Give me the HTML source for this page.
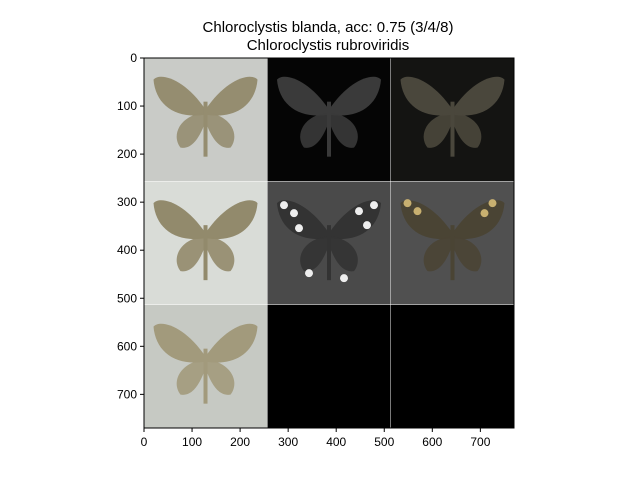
<!DOCTYPE html>
<html><head><meta charset="utf-8"><style>
body{margin:0;background:#fff;}
svg{display:block;font-family:"Liberation Sans","DejaVu Sans",sans-serif;}
</style></head><body>
<svg id="chart" width="640" height="480" viewBox="0 0 640 480">
<text x="328" y="32" text-anchor="middle" font-size="15">Chloroclystis blanda, acc: 0.75 (3/4/8)</text>
<text x="328" y="50" text-anchor="middle" font-size="15">Chloroclystis rubroviridis</text>
<g id="cells"></g>
<g id="axes"></g>
</svg>
<script>
const xTicks=[0,100,200,300,400,500,600,700];
const yTicks=[0,100,200,300,400,500,600,700];
const extent=770;
const cellBgs=[["#c9cbc7","#050505","#141412"],["#d9dcd7","#4a4a4a","#505050"],["#c6c9c3","#000000","#000000"]];
const mothCols=[["#958d70","#3a3a3a","#4a473c"],["#928a6c","#333333","#4a4434"],["#a29a7c",null,null]];
const X0=144,Y0=58,S=370;
const sx=v=>X0+v/extent*S, sy=v=>Y0+v/extent*S;
const ns="http://www.w3.org/2000/svg";
const cells=document.getElementById('cells'), axes=document.getElementById('axes');
function mk(t,a,p){const e=document.createElementNS(ns,t);for(const k in a)e.setAttribute(k,a[k]);p.appendChild(e);return e;}
for(let r=0;r<3;r++)for(let c=0;c<3;c++){
  const x=sx(c*257),y=sy(r*257),w=sx(c*257+256)-x,h=sy(r*257+256)-y;
  const g=mk('g',{},cells);
  
  
  mk('rect',{x:x,y:y,width:w,height:h,fill:cellBgs[r][c]},g);
  const mc=mothCols[r][c];
  if(mc){
    const cx=x+w/2,cy=y+h*0.42;
    mk('path',{d:`M${cx},${cy} C${cx-20},${cy-30} ${cx-45},${cy-38} ${cx-52},${cy-30} C${cx-50},${cy-5} ${cx-30},${cy+10} ${cx},${cy+5} Z`,fill:mc},g);
    mk('path',{d:`M${cx},${cy} C${cx+20},${cy-30} ${cx+45},${cy-38} ${cx+52},${cy-30} C${cx+50},${cy-5} ${cx+30},${cy+10} ${cx},${cy+5} Z`,fill:mc},g);
    mk('path',{d:`M${cx},${cy+3} C${cx-25},${cy+5} ${cx-35},${cy+25} ${cx-25},${cy+38} C${cx-12},${cy+40} ${cx-5},${cy+25} ${cx},${cy+12} Z`,fill:mc,opacity:0.9},g);
    mk('path',{d:`M${cx},${cy+3} C${cx+25},${cy+5} ${cx+35},${cy+25} ${cx+25},${cy+38} C${cx+12},${cy+40} ${cx+5},${cy+25} ${cx},${cy+12} Z`,fill:mc,opacity:0.9},g);
    mk('rect',{x:cx-2,y:cy-8,width:4,height:55,fill:mc},g);
    if(r===1&&c===1){[[-35,-20],[-30,-5],[30,-22],[38,-8],[-45,-28],[45,-28],[-20,40],[15,45]].forEach(p=>mk('circle',{cx:cx+p[0],cy:cy+p[1],r:4,fill:'#eee'},g));}
    if(r===1&&c===2){[[-35,-22],[32,-20],[40,-30],[-45,-30]].forEach(p=>mk('circle',{cx:cx+p[0],cy:cy+p[1],r:4,fill:'#c8b070'},g));}
  }
}
mk('rect',{x:X0,y:Y0,width:S,height:S,fill:'none',stroke:'#000','stroke-width':1},axes);
xTicks.forEach(t=>{const x=sx(t);
  mk('line',{x1:x,x2:x,y1:Y0+S,y2:Y0+S+4,stroke:'#000'},axes);
  const e=mk('text',{x:x,y:Y0+S+18,'text-anchor':'middle','font-size':12},axes);e.textContent=t;
  
  });
yTicks.forEach(t=>{const y=sy(t);
  mk('line',{x1:X0-4,x2:X0,y1:y,y2:y,stroke:'#000'},axes);
  const e=mk('text',{x:X0-7,y:y+4,'text-anchor':'end','font-size':12},axes);e.textContent=t;
  
  });
</script>
</body></html>
